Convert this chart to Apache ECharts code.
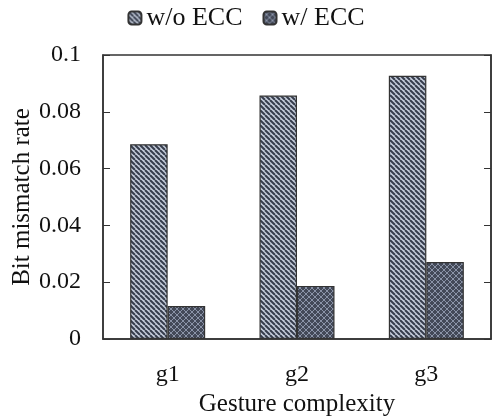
<!DOCTYPE html>
<html>
<head>
<meta charset="utf-8">
<script src="https://cdn.jsdelivr.net/npm/echarts@6/dist/echarts.min.js"></script>
<style>
  html, body { margin: 0; padding: 0; background: #fff; }
  #chart { width: 492px; height: 418px; }
</style>
</head>
<body>
<div id="chart"></div>
<script>
var categories = ['g1', 'g2', 'g3'];
var withoutEcc = [0.0686, 0.0857, 0.0927];
var withEcc = [0.0116, 0.0187, 0.0271];
var yTicks = [0, 0.02, 0.04, 0.06, 0.08, 0.1];

// hatch fills
function stripePattern() {
	var c = document.createElement('canvas');
	c.width = 5; c.height = 5;
	var ctx = c.getContext('2d');
	ctx.fillStyle = '#c4ccda';
	ctx.fillRect(0, 0, 5, 5);
	ctx.strokeStyle = '#363d4c';
	ctx.lineWidth = 2;
	for (var k = -5; k <= 10; k += 5) {
		ctx.beginPath();
		ctx.moveTo(k, 0);
		ctx.lineTo(k + 5, 5);
		ctx.stroke();
	}
	return c;
}
function crossPattern() {
	var c = document.createElement('canvas');
	c.width = 6; c.height = 6;
	var ctx = c.getContext('2d');
	ctx.fillStyle = '#434958';
	ctx.fillRect(0, 0, 6, 6);
	ctx.strokeStyle = '#8a93a7';
	ctx.lineWidth = 1;
	ctx.beginPath();
	ctx.moveTo(0, 0); ctx.lineTo(6, 6);
	ctx.moveTo(6, 0); ctx.lineTo(0, 6);
	ctx.stroke();
	return c;
}
var stripeFill = { image: stripePattern(), repeat: 'repeat' };
var crossFill = { image: crossPattern(), repeat: 'repeat' };

var font = 'Liberation Serif';
var ink = '#111';
var chart = echarts.init(document.getElementById('chart'));
var option = {
	animation: false,
	textStyle: { fontFamily: font },
	legend: {
		top: 0,
		left: 'center',
		itemWidth: 13,
		itemHeight: 13,
		itemGap: 20,
		textStyle: { fontFamily: font, fontSize: 26, color: ink },
		data: ['w/o ECC', 'w/ ECC']
	},
	grid: {
		left: 103, right: 1, top: 55, bottom: 79,
		show: true, borderColor: '#333', borderWidth: 1.5,
		containLabel: false,
		outerBoundsMode: 'none'
	},
	xAxis: {
		type: 'category',
		data: categories,
		axisLine: { lineStyle: { color: '#333', width: 1.5 } },
		axisTick: { show: false },
		axisLabel: { fontFamily: font, fontSize: 24, color: ink, margin: 24 },
		name: 'Gesture complexity',
		nameLocation: 'middle',
		nameGap: 50,
		nameTextStyle: { fontFamily: font, fontSize: 25, color: ink }
	},
	yAxis: [{
		type: 'value',
		min: 0, max: 0.1, interval: 0.02,
		axisLine: { show: true, lineStyle: { color: '#333', width: 1.5 } },
		axisTick: { show: true, inside: true, length: 7, lineStyle: { color: '#333' } },
		splitLine: { show: false },
		axisLabel: {
			fontFamily: font, fontSize: 24, color: ink, margin: 22,
			formatter: function (v) {
				for (var i = 0; i < yTicks.length; i++) {
					if (Math.abs(v - yTicks[i]) < 1e-9) return String(yTicks[i]);
				}
				return '';
			}
		},
		name: 'Bit mismatch rate',
		nameLocation: 'middle',
		nameGap: 68,
		nameMoveOverlap: false,
		nameTextStyle: { fontFamily: font, fontSize: 25, color: ink }
	}, {
		type: 'value',
		position: 'right',
		min: 0, max: 0.1, interval: 0.02,
		axisLine: { show: true, lineStyle: { color: '#333', width: 1.5 } },
		axisTick: { show: true, inside: true, length: 7, lineStyle: { color: '#333' } },
		axisLabel: { show: false },
		splitLine: { show: false }
	}],
	series: [{
		name: 'w/o ECC',
		type: 'bar',
		data: withoutEcc,
		barWidth: '29%',
		barGap: '0%',
		itemStyle: { color: stripeFill, borderColor: '#333', borderWidth: 1.2 }
	}, {
		name: 'w/ ECC',
		type: 'bar',
		data: withEcc,
		barWidth: '29%',
		itemStyle: { color: crossFill, borderColor: '#333', borderWidth: 1.2 }
	}]
};
chart.setOption(option);
window.addEventListener('resize', chart.resize);
</script>
</body>
</html>
